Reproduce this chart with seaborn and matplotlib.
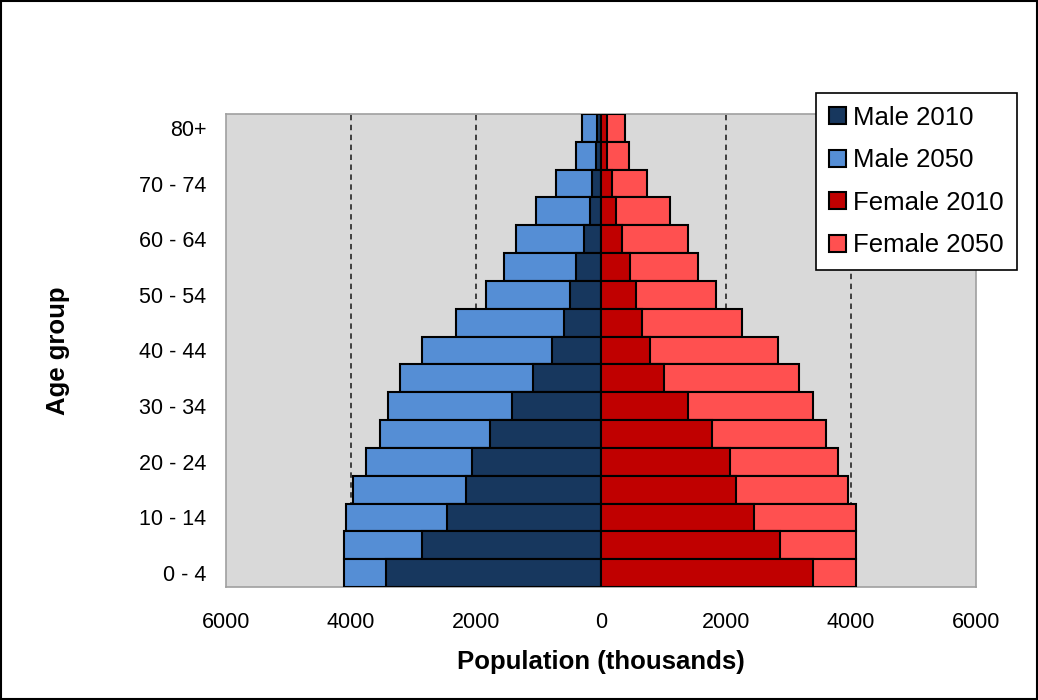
import numpy as np
import pandas as pd
import matplotlib
matplotlib.use("Agg")
import matplotlib.pyplot as plt
import seaborn as sns
from matplotlib.patches import Patch, Rectangle
from matplotlib.ticker import FuncFormatter

# ------------------------------------------------------------
# Data (thousands), youngest group first
# ------------------------------------------------------------
age_groups = ["0 - 4", "5 - 9", "10 - 14", "15 - 19", "20 - 24", "25 - 29",
              "30 - 34", "35 - 39", "40 - 44", "45 - 49", "50 - 54", "55 - 59",
              "60 - 64", "65 - 69", "70 - 74", "75 - 79", "80+"]

male_2010 = [3445, 2869, 2459, 2165, 2069, 1776, 1429, 1083, 785, 587,
             496, 400, 267, 176, 140, 80, 70]
male_2050 = [4112, 4112, 4085, 3963, 3760, 3536, 3403, 3216, 2869, 2320,
             1840, 1552, 1360, 1040, 720, 400, 300]
female_2010 = [3397, 2864, 2448, 2160, 2064, 1776, 1397, 1008, 784, 651,
               555, 464, 331, 235, 171, 90, 90]
female_2050 = [4075, 4075, 4075, 3947, 3787, 3595, 3397, 3173, 2827, 2251,
               1840, 1547, 1387, 1104, 741, 453, 384]

series_names = ["Male 2010", "Male 2050", "Female 2010", "Female 2050"]
colors = {"Male 2010": "#17375e", "Male 2050": "#558ed5",
          "Female 2010": "#c00000", "Female 2050": "#ff5050"}

df = pd.DataFrame({
    "age": age_groups,
    "Male 2010": [-v for v in male_2010],
    "Male 2050": [-v for v in male_2050],
    "Female 2010": female_2010,
    "Female 2050": female_2050,
})
order = age_groups[::-1]  # oldest at top

# ------------------------------------------------------------
# Plot
# ------------------------------------------------------------
plt.rcParams["font.family"] = ["Liberation Sans", "DejaVu Sans"]

fig = plt.figure(figsize=(10.38, 7), dpi=100)
ax = fig.add_axes([226 / 1038, 1 - 587 / 700, 750 / 1038, 473 / 700])
ax.set_facecolor("#d9d9d9")

# 2050 drawn first, 2010 on top
for name in ["Male 2050", "Female 2050", "Male 2010", "Female 2010"]:
    sns.barplot(data=df, x=name, y="age", order=order, orient="h",
                color=colors[name], saturation=1, width=1.0,
                edgecolor="black", linewidth=1.5, ax=ax, zorder=3)

for x in [-4000, -2000, 2000, 4000]:
    ax.axvline(x, color="#333333", linestyle=(0, (3, 2.5)), linewidth=1.3, zorder=1)

ax.set_xlim(-6000, 6000)
ax.set_ylim(len(order) - 0.5, -0.5)
ax.set_xticks(np.arange(-6000, 6001, 2000))
ax.xaxis.set_major_formatter(FuncFormatter(lambda v, p: f"{abs(int(v))}"))
ax.set_yticks(range(len(order)))
ax.set_yticklabels([lab if i % 2 == 0 else "" for i, lab in enumerate(order)])
ax.tick_params(axis="both", length=0, labelsize=15.5, colors="black")
ax.tick_params(axis="x", pad=18)
ax.tick_params(axis="y", pad=14)

for s in ax.spines.values():
    s.set_color("#a0a0a0")
    s.set_linewidth(1.2)

ax.set_xlabel("Population (thousands)", fontsize=18.5, fontweight="bold", labelpad=12)
ax.set_ylabel("Age group", fontsize=18.5, fontweight="bold", labelpad=50)

handles = [Patch(facecolor=colors[n], edgecolor="black", linewidth=1.5, label=n)
           for n in series_names]
leg = fig.legend(handles=handles, loc="upper left",
                 bbox_to_anchor=(816 / 1038, 1 - 93 / 700),
                 fontsize=18.5, frameon=True, fancybox=False, framealpha=1,
                 edgecolor="black", handlelength=0.65, handleheight=0.65,
                 handletextpad=0.3, labelspacing=0.72, borderpad=0.5,
                 borderaxespad=0)
leg.get_frame().set_linewidth(1.2)

fig.patches.append(Rectangle((0.001, 0.001), 0.998, 0.997, transform=fig.transFigure,
                             fill=False, edgecolor="black", linewidth=1.5))

fig.savefig("out.png", dpi=100)
